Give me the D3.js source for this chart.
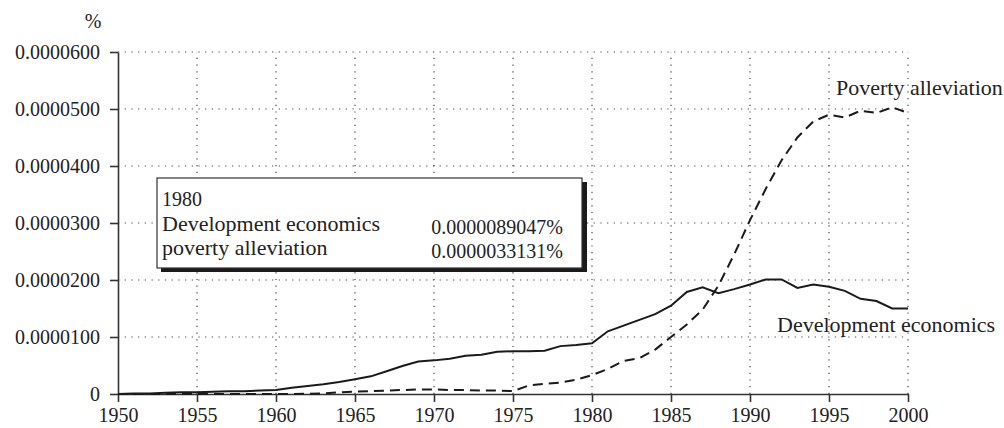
<!DOCTYPE html>
<html>
<head>
<meta charset="utf-8">
<script src="https://cdn.jsdelivr.net/npm/d3@7"></script>
<style>
  body { margin: 0; background: #fff; }
  text { font-family: "Liberation Serif", "Times New Roman", serif; font-size: 20px; fill: #222; }
  text.words { font-size: 22px; }
</style>
</head>
<body>
<div id="chart"></div>
<script>
var width = 1004;
var height = 428;

var years = d3.range(1950, 2001);

// share of books, in %
var devEconomics = [
  0.0e-5, 0.01e-5, 0.01e-5, 0.02e-5, 0.03e-5, 0.03e-5, 0.04e-5, 0.05e-5, 0.05e-5, 0.06e-5,
  0.07e-5, 0.11e-5, 0.14e-5, 0.17e-5, 0.21e-5, 0.26e-5, 0.31e-5, 0.40e-5, 0.49e-5, 0.57e-5,
  0.59e-5, 0.62e-5, 0.67e-5, 0.69e-5, 0.74e-5, 0.75e-5, 0.75e-5, 0.76e-5, 0.84e-5, 0.86e-5,
  0.89047e-5, 1.10e-5, 1.20e-5, 1.30e-5, 1.40e-5, 1.55e-5, 1.79e-5, 1.87e-5, 1.77e-5, 1.84e-5,
  1.92e-5, 2.01e-5, 2.01e-5, 1.86e-5, 1.92e-5, 1.88e-5, 1.81e-5, 1.67e-5, 1.63e-5, 1.50e-5,
  1.50e-5
];
var povAlleviation = [
  0.0e-5, 0.0e-5, 0.0e-5, 0.0e-5, 0.0e-5, 0.0e-5, 0.0e-5, 0.0e-5, 0.0e-5, 0.0e-5,
  0.0e-5, 0.0e-5, 0.005e-5, 0.01e-5, 0.03e-5, 0.04e-5, 0.05e-5, 0.06e-5, 0.07e-5, 0.08e-5,
  0.08e-5, 0.07e-5, 0.07e-5, 0.06e-5, 0.06e-5, 0.05e-5, 0.15e-5, 0.18e-5, 0.20e-5, 0.25e-5,
  0.33131e-5, 0.44e-5, 0.58e-5, 0.63e-5, 0.78e-5, 1.00e-5, 1.22e-5, 1.48e-5, 1.90e-5, 2.45e-5,
  3.05e-5, 3.60e-5, 4.10e-5, 4.50e-5, 4.78e-5, 4.90e-5, 4.85e-5, 4.97e-5, 4.93e-5, 5.03e-5,
  4.93e-5
];

var yTicks = [0, 0.00001, 0.00002, 0.00003, 0.00004, 0.00005, 0.00006];
var yTickLabels = ["0", "0.0000100", "0.0000200", "0.0000300", "0.0000400", "0.0000500", "0.0000600"];
var xTicks = [1950, 1955, 1960, 1965, 1970, 1975, 1980, 1985, 1990, 1995, 2000];

var legendYear = "1980";
var legendNames = ["Development economics", "poverty alleviation"];
var legendValues = ["0.0000089047%", "0.0000033131%"];

var svg = d3.select("#chart")
  .append("svg")
  .attr("width", width)
  .attr("height", height);

var x = d3.scaleLinear().domain([1950, 2000]).range([118, 908]);
var y = d3.scaleLinear().domain([0, 0.00006]).range([394, 52]);

// dotted grid
svg.append("g")
  .selectAll("line")
  .data(yTicks.slice(1)).enter()
  .append("line")
  .attr("x1", x(1950)).attr("x2", x(2000))
  .attr("y1", function(d) { return y(d); })
  .attr("y2", function(d) { return y(d); })
  .attr("stroke", "#444")
  .attr("stroke-width", 1.2)
  .attr("stroke-dasharray", "1.2,5.5");

svg.append("g")
  .selectAll("line")
  .data(xTicks.slice(1)).enter()
  .append("line")
  .attr("x1", function(d) { return x(d); })
  .attr("x2", function(d) { return x(d); })
  .attr("y1", y(0)).attr("y2", y(0.00006))
  .attr("stroke", "#444")
  .attr("stroke-width", 1.2)
  .attr("stroke-dasharray", "1.2,5.5");

// axes
var yAxis = d3.axisLeft(y)
  .tickValues(yTicks)
  .tickFormat(function(d, i) { return yTickLabels[i]; })
  .tickSize(8)
  .tickSizeOuter(0)
  .tickPadding(10);

var xAxis = d3.axisBottom(x)
  .tickValues(xTicks)
  .tickFormat(d3.format("d"))
  .tickSize(8)
  .tickSizeOuter(0)
  .tickPadding(6);

var gy = svg.append("g").attr("transform", "translate(" + x(1950) + ",0)").call(yAxis);
var gx = svg.append("g").attr("transform", "translate(0," + y(0) + ")").call(xAxis);

[gx, gy].forEach(function(g) {
  g.selectAll("path, line").attr("stroke", "#333").attr("stroke-width", 1.6);
  g.selectAll("text")
    .style("font-family", "'Liberation Serif', serif")
    .style("font-size", "20px")
    .attr("fill", "#222");
});

svg.append("text")
  .attr("x", 93).attr("y", 28)
  .attr("text-anchor", "middle")
  .text("%");

// lines
var line = d3.line()
  .x(function(d) { return x(d[0]); })
  .y(function(d) { return y(d[1]); });

svg.append("path")
  .datum(d3.zip(years, povAlleviation))
  .attr("d", line)
  .attr("fill", "none")
  .attr("stroke", "#1a1a1a")
  .attr("stroke-width", 2)
  .attr("stroke-dasharray", "10,6");

svg.append("path")
  .datum(d3.zip(years, devEconomics))
  .attr("d", line)
  .attr("fill", "none")
  .attr("stroke", "#1a1a1a")
  .attr("stroke-width", 2);

svg.append("text").attr("class", "words").attr("x", 836).attr("y", 95).text("Poverty alleviation");
svg.append("text").attr("class", "words").attr("x", 777).attr("y", 332).text("Development economics");

// hover box for 1980
var legend = svg.append("g");
legend.append("rect")
  .attr("x", 161).attr("y", 182)
  .attr("width", 426).attr("height", 90)
  .attr("fill", "#1a1a1a");
legend.append("rect")
  .attr("x", 157).attr("y", 178)
  .attr("width", 425).attr("height", 90)
  .attr("fill", "#fff")
  .attr("stroke", "#333")
  .attr("stroke-width", 1.2);

legend.append("text").attr("x", 162).attr("y", 206).text(legendYear);
legend.selectAll(".lname")
  .data(legendNames).enter()
  .append("text")
  .attr("class", "lname words")
  .attr("x", 162)
  .attr("y", function(d, i) { return 231 + i * 24; })
  .text(function(d) { return d; });
legend.selectAll(".lval")
  .data(legendValues).enter()
  .append("text")
  .attr("class", "lval")
  .attr("x", 563)
  .attr("text-anchor", "end")
  .attr("y", function(d, i) { return 234 + i * 24; })
  .text(function(d) { return d; });
</script>
</body>
</html>
